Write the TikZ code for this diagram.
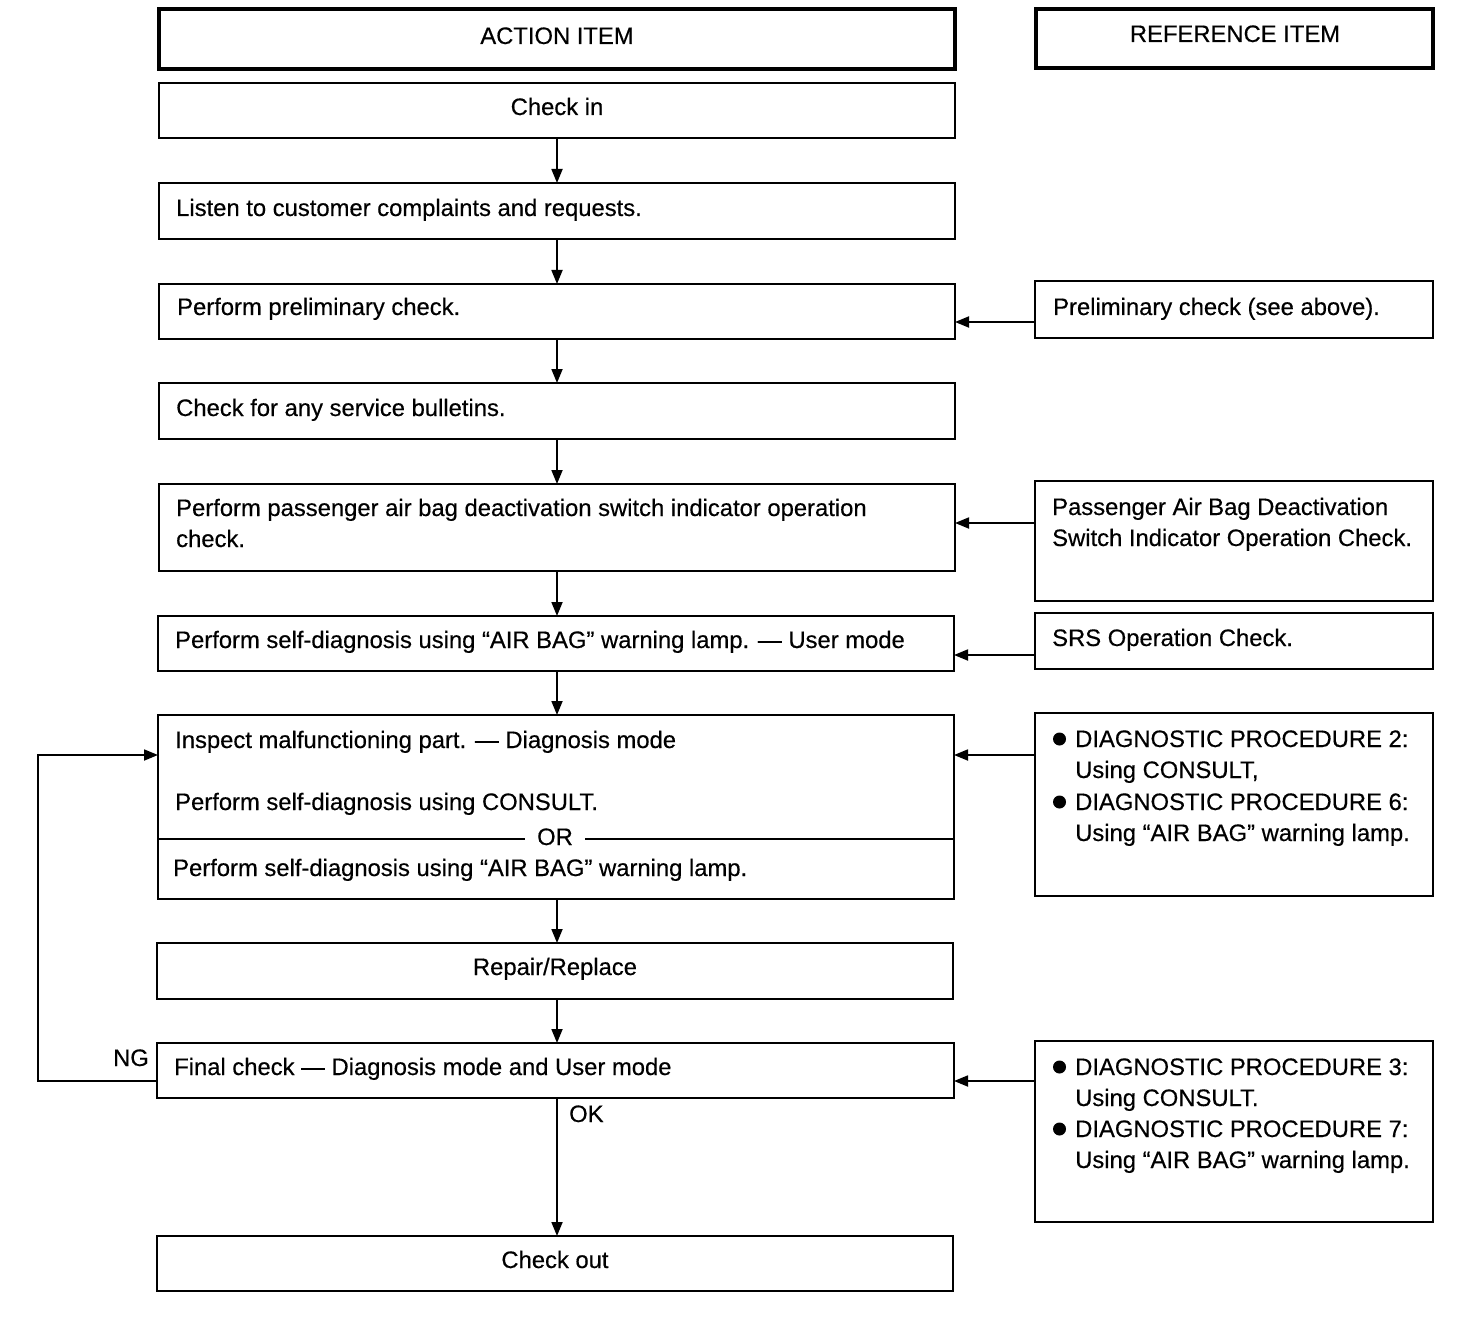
\documentclass[tikz,border=0pt]{standalone}
\usepackage{fontspec}
\setmainfont[FakeBold=0.4]{Liberation Sans}
\usetikzlibrary{arrows.meta}
\begin{document}
\begin{tikzpicture}[x=1pt,y=-1pt]
\tikzset{
  box/.style={draw, line width=1.8pt, inner sep=0pt, outer sep=0pt},
  headbox/.style={box, line width=3.4pt},
  txt/.style={anchor=base west, inner sep=0pt, font=\fontsize{23.8}{28}\selectfont},
  ctxt/.style={txt, anchor=base},
  arr/.style={line width=1.8pt, -{Triangle[length=14pt,width=11pt]}},
  bul/.style={fill=black}
}
\newcommand\abox[6][box]{\node[#1,anchor=north west,minimum width=#5pt-#3pt,minimum height=#6pt-#4pt] (#2) at (#3,#4) {};}
\fill[white] (0,0) rectangle (1472,1332);
\useasboundingbox (0,0) rectangle (1472,1332);

% boxes
\abox[headbox]{action}{159}{9}{955}{69}
\abox[headbox]{reference}{1036}{9}{1433}{68}
\abox{checkin}{159}{83}{955}{138}
\abox{listen}{159}{183}{955}{239}
\abox{prelim}{159}{284}{955}{339}
\abox{refprelim}{1035}{281}{1433}{338}
\abox{bulletins}{159}{383}{955}{439}
\abox{passenger}{159}{484}{955}{571}
\abox{refpass}{1035}{481}{1433}{601}
\abox{usermode}{158}{616}{954}{671}
\abox{refsrs}{1035}{613}{1433}{669}
\abox{inspect}{158}{715}{954}{899}
\abox{refdiag}{1035}{713}{1433}{896}
\abox{repair}{157}{943}{953}{999}
\abox{final}{157}{1043}{954}{1098}
\abox{reffinal}{1035}{1041}{1433}{1222}
\abox{checkout}{157}{1236}{953}{1291}

% texts
\node[ctxt] (tAction) at (557,44) {ACTION ITEM};
\node[ctxt] (tRef) at (1235,42) {REFERENCE ITEM};
\node[ctxt] (tCheckin) at (557,115) {Check in};
\node[txt] (tListen) at (176,216) {Listen to customer complaints and requests.};
\node[txt] (tPrelim) at (177,315) {Perform preliminary check.};
\node[txt] (tBull) at (176,416) {Check for any service bulletins.};
\node[txt] (tPass1) at (176,516) {Perform passenger air bag deactivation switch indicator operation};
\node[txt] (tPass2) at (176,547) {check.};
\node[txt] (tUser) at (175,648) {Perform self-diagnosis using “AIR BAG” warning lamp. — User mode};
\node[txt] (tInsp) at (175,748) {Inspect malfunctioning part. — Diagnosis mode};
\node[txt] (tCons) at (175,810) {Perform self-diagnosis using CONSULT.};
\draw[line width=1.8pt] (inspect.west |- 0,839) -- (inspect.east |- 0,839);
\node[ctxt, fill=white, inner xsep=12pt, inner ysep=2pt] (tOr) at (555,845) {OR};
\node[txt] (tLamp) at (173,876) {Perform self-diagnosis using “AIR BAG” warning lamp.};
\node[ctxt] (tRepair) at (555,975) {Repair/Replace};
\node[txt] (tFinal) at (174,1075) {Final check — Diagnosis mode and User mode};
\node[ctxt] (tOut) at (555,1268) {Check out};
\node[txt] (tRP) at (1053,315) {Preliminary check (see above).};
\node[txt] (tRPa1) at (1052,515) {Passenger Air Bag Deactivation};
\node[txt] (tRPa2) at (1052,546) {Switch Indicator Operation Check.};
\node[txt] (tSRS) at (1052,646) {SRS Operation Check.};
\fill[bul] (1059.5,739) circle (6.5);
\node[txt] (tD2) at (1075,747) {DIAGNOSTIC PROCEDURE 2:};
\node[txt] (tD2b) at (1075,778) {Using CONSULT,};
\fill[bul] (1059.5,802) circle (6.5);
\node[txt] (tD6) at (1075,810) {DIAGNOSTIC PROCEDURE 6:};
\node[txt] (tD6b) at (1075,841) {Using “AIR BAG” warning lamp.};
\fill[bul] (1059.5,1067) circle (6.5);
\node[txt] (tD3) at (1075,1075) {DIAGNOSTIC PROCEDURE 3:};
\node[txt] (tD3b) at (1075,1106) {Using CONSULT.};
\fill[bul] (1059.5,1129) circle (6.5);
\node[txt] (tD7) at (1075,1137) {DIAGNOSTIC PROCEDURE 7:};
\node[txt] (tD7b) at (1075,1168) {Using “AIR BAG” warning lamp.};
\node[txt, anchor=base east] (tNG) at (149,1066) {NG};
\node[txt] (tOK) at (569,1122) {OK};

% vertical connectors
\coordinate (cx) at (557,0);
\foreach \a/\b in {checkin/listen, listen/prelim, prelim/bulletins, bulletins/passenger, passenger/usermode, usermode/inspect, inspect/repair, repair/final, final/checkout}
  \draw[arr] (cx |- \a.south) -- (cx |- \b.north);

% horizontal connectors
\coordinate (y1) at (0,322);
\coordinate (y2) at (0,523);
\coordinate (y3) at (0,655);
\coordinate (y4) at (0,755);
\coordinate (y5) at (0,1081);
\draw[arr] (refprelim.west |- y1) -- (prelim.east |- y1);
\draw[arr] (refpass.west |- y2) -- (passenger.east |- y2);
\draw[arr] (refsrs.west |- y3) -- (usermode.east |- y3);
\draw[arr] (refdiag.west |- y4) -- (inspect.east |- y4);
\draw[arr] (reffinal.west |- y5) -- (final.east |- y5);

% feedback loop
\coordinate (lx) at (38,0);
\draw[arr] (final.west |- y5) -- (lx |- y5) -- (lx |- y4) -- (inspect.west |- y4);
\end{tikzpicture}
\end{document}
